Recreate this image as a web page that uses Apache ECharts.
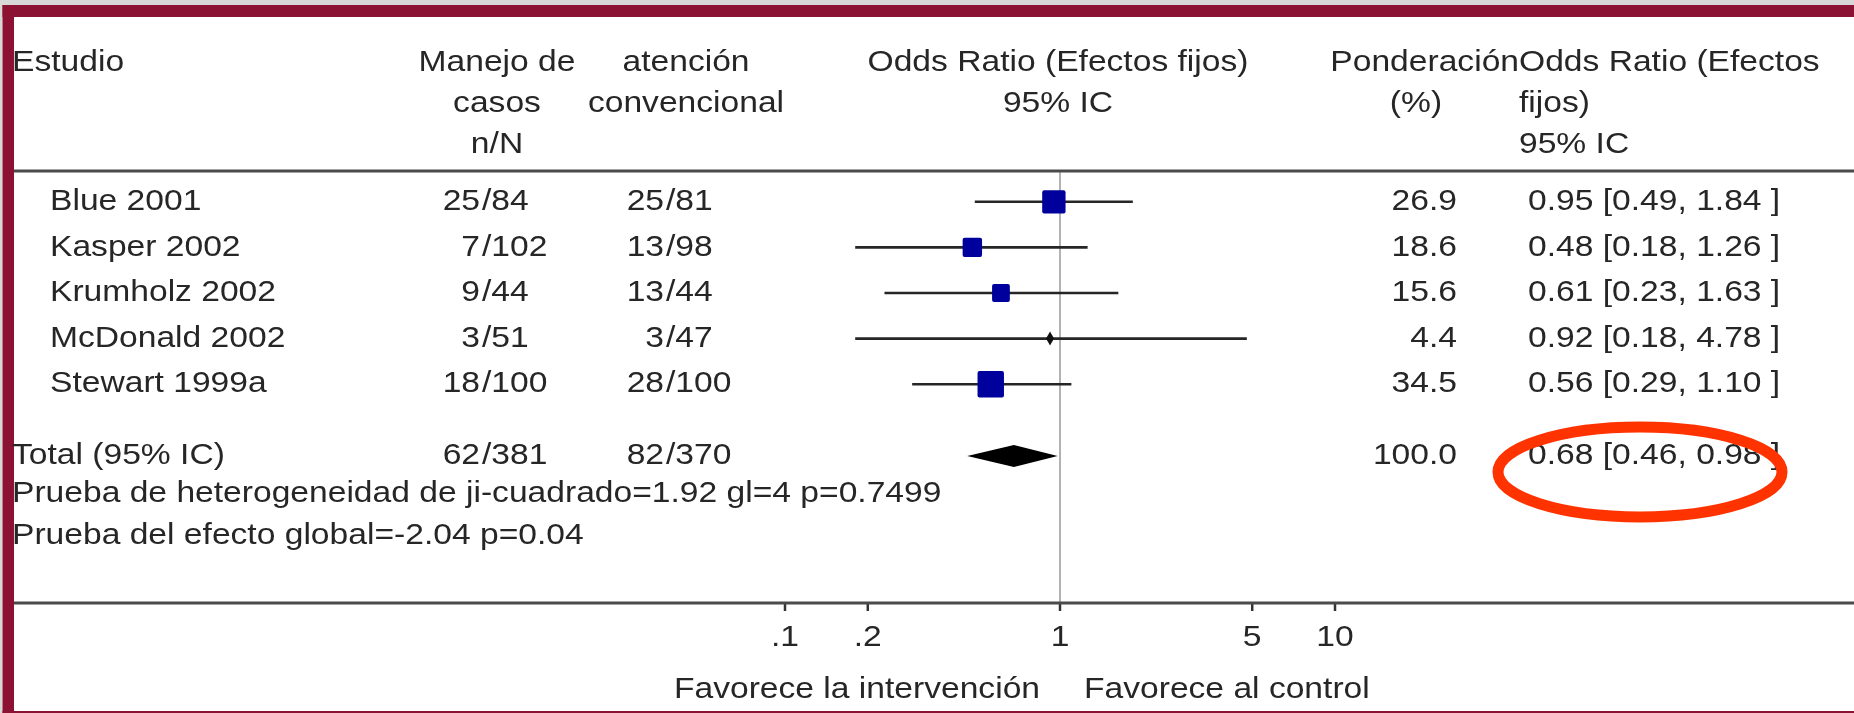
<!DOCTYPE html>
<html><head><meta charset="utf-8">
<script src="https://cdn.jsdelivr.net/npm/echarts@6/dist/echarts.min.js"></script>
<style>html,body{margin:0;padding:0;background:#fff}#c{width:1854px;height:713px}</style>
</head><body><div id="c"></div>
<script>
// ---------- data ----------
const studies      = ['Blue 2001', 'Kasper 2002', 'Krumholz 2002', 'McDonald 2002', 'Stewart 1999a'];
const treatEvents  = [25, 7, 9, 3, 18];
const treatTotal   = [84, 102, 44, 51, 100];
const ctrlEvents   = [25, 13, 13, 3, 28];
const ctrlTotal    = [81, 98, 44, 47, 100];
const weights      = [26.9, 18.6, 15.6, 4.4, 34.5];
const oddsRatio    = [0.95, 0.48, 0.61, 0.92, 0.56];
const ciLow        = [0.49, 0.18, 0.23, 0.18, 0.29];
const ciHigh       = [1.84, 1.26, 1.63, 4.78, 1.10];

const totalLabel   = 'Total (95% IC)';
const totalTreat   = [62, 381];
const totalCtrl    = [82, 370];
const totalWeight  = [100.0];
const totalOR      = [0.68];
const totalLow     = [0.46];
const totalHigh    = [0.98];

const tickValues   = [0.1, 0.2, 1, 5, 10];
const tickLabels   = ['.1', '.2', '1', '5', '10'];
const nullEffect   = [1];

const headerLines = {
  study: ['Estudio'],
  treat: ['Manejo de', 'casos', 'n/N'],
  ctrl: ['atención', 'convencional'],
  plot: ['Odds Ratio (Efectos fijos)', '95% IC'],
  weight: ['Ponderación', '(%)'],
  orText: ['Odds Ratio (Efectos', 'fijos)', '95% IC']
};
const footerLines = ['Prueba de heterogeneidad de ji-cuadrado=1.92 gl=4 p=0.7499', 'Prueba del efecto global=-2.04 p=0.04'];
const favourLabels = ['Favorece la intervención', 'Favorece al control'];

// ---------- styling / layout ----------
const FONT = '"Liberation Sans", Arial, sans-serif';
const FS = 30, SX = 1.12, INK = '#262626';
const COL = { name: 50, n1: 480, n2: 664, w: 1457, ci: 1528 };
const fmtCI = (o, l, h) => o.toFixed(2) + ' [' + l.toFixed(2) + ', ' + h.toFixed(2) + ' ]';

function T(x, y, text, align) {
  align = align || 'left';
  return { type: 'text', x: x, y: y, scaleX: SX, silent: true, z: 20,
    style: { text: text, fill: INK, fontSize: FS, fontFamily: FONT,
      align: align, verticalAlign: 'middle', textAlign: align, textVerticalAlign: 'middle' } };
}
function rowCells(y, name, nameX, tE, tT, cE, cT, w, ciText) {
  return [
    T(nameX, y, name, 'left'),
    T(COL.n1, y, String(tE), 'right'), T(COL.n1 + 2, y, '/' + tT, 'left'),
    T(COL.n2, y, String(cE), 'right'), T(COL.n2 + 2, y, '/' + cT, 'left'),
    T(COL.w, y, w.toFixed(1), 'right'),
    T(COL.ci, y, ciText, 'left')
  ];
}

const chart = echarts.init(document.getElementById('c'), null, { renderer: 'canvas' });

const graphic = [];
// frame
graphic.push({ type: 'rect', z: -10, shape: { x: 0, y: 0, width: 1854, height: 5 }, style: { fill: '#d8d8d8' } });
graphic.push({ type: 'rect', z: -10, shape: { x: 0, y: 0, width: 2.5, height: 713 }, style: { fill: '#d8d8d8' } });
graphic.push({ type: 'rect', z: -9, shape: { x: 2.5, y: 5, width: 1852, height: 12 }, style: { fill: '#8b1232' } });
graphic.push({ type: 'rect', z: -9, shape: { x: 2.5, y: 5, width: 11.5, height: 708 }, style: { fill: '#8b1232' } });
graphic.push({ type: 'rect', z: -9, shape: { x: 2.5, y: 711, width: 1852, height: 2 }, style: { fill: '#8b1232' } });
// rules
graphic.push({ type: 'line', z: 5, shape: { x1: 14, y1: 171, x2: 1854, y2: 171 }, style: { stroke: '#4a4a4a', lineWidth: 3 } });
graphic.push({ type: 'line', z: 5, shape: { x1: 14, y1: 603, x2: 1854, y2: 603 }, style: { stroke: '#4a4a4a', lineWidth: 3 } });
// header
const hy = [63, 104, 145];
headerLines.study.forEach((s, i) => graphic.push(T(12, hy[i], s, 'left')));
headerLines.treat.forEach((s, i) => graphic.push(T(497, hy[i], s, 'center')));
headerLines.ctrl.forEach((s, i) => graphic.push(T(686, hy[i], s, 'center')));
headerLines.plot.forEach((s, i) => graphic.push(T(1058, hy[i], s, 'center')));
graphic.push(T(1519, hy[0], headerLines.weight[0], 'right'));
graphic.push(T(1416, hy[1], headerLines.weight[1], 'center'));
headerLines.orText.forEach((s, i) => graphic.push(T(1519, hy[i], s, 'left')));
// footer
graphic.push(T(12, 494, footerLines[0], 'left'));
graphic.push(T(12, 536, footerLines[1], 'left'));
graphic.push(T(1040, 690, favourLabels[0], 'right'));
graphic.push(T(1084, 690, favourLabels[1], 'left'));
// highlight ellipse
graphic.push({ type: 'ellipse', z: 30, shape: { cx: 1640, cy: 472, rx: 142, ry: 45 }, style: { fill: 'none', stroke: '#ff3300', lineWidth: 11 } });

const logX = (gi) => ({ type: 'log', logBase: 10, min: 0.1, max: 10, gridIndex: gi, show: false });

const option = {
  backgroundColor: '#ffffff',
  animation: false,
  grid: [
    { left: 785, top: 171, width: 550, height: 432 },
    { left: 785, top: 179, width: 550, height: 228 },
    { left: 785, top: 436, width: 550, height: 40 }
  ],
  xAxis: [logX(0), logX(1), logX(2)],
  yAxis: [
    { type: 'value', min: 0, max: 1, gridIndex: 0, show: false },
    { type: 'category', data: studies, inverse: true, gridIndex: 1, show: false },
    { type: 'category', data: [totalLabel], gridIndex: 2, show: false }
  ],
  graphic: graphic,
  series: [
    { // line of no effect
      type: 'line', xAxisIndex: 0, yAxisIndex: 0, symbol: 'none', silent: true, z: 1,
      data: [[nullEffect[0], 0], [nullEffect[0], 1.015]],
      lineStyle: { color: '#9a9a9a', width: 1.5 }
    },
    { // axis ticks + labels
      type: 'custom', xAxisIndex: 0, yAxisIndex: 0, clip: false, silent: true,
      data: tickValues.map(v => [v, 0]),
      renderItem: function (params, api) {
        const p = api.coord([api.value(0), 0]);
        return { type: 'group', children: [
          { type: 'line', shape: { x1: p[0], y1: p[1], x2: p[0], y2: p[1] + 8 }, style: { stroke: '#333', lineWidth: 2.5 } },
          T(p[0], p[1] + 35, tickLabels[params.dataIndex], 'center')
        ] };
      }
    },
    { // studies
      type: 'custom', xAxisIndex: 1, yAxisIndex: 1, clip: false, silent: true,
      data: studies.map((s, i) => [oddsRatio[i], ciLow[i], ciHigh[i], i]),
      encode: { x: [0, 1, 2], y: 3 },
      renderItem: function (params, api) {
        const i = params.dataIndex;
        const yv = api.value(3);
        const pc = api.coord([api.value(0), yv]);
        const pl = api.coord([api.value(1), yv]);
        const ph = api.coord([api.value(2), yv]);
        const w = weights[i];
        const side = 4.5 * Math.sqrt(w);
        const children = [
          { type: 'line', shape: { x1: pl[0], y1: pc[1], x2: ph[0], y2: pc[1] }, style: { stroke: '#262626', lineWidth: 2.6 } }
        ];
        if (side < 12) {
          children.push({ type: 'polygon', shape: { points: [[pc[0] - 4, pc[1]], [pc[0], pc[1] - 7], [pc[0] + 4, pc[1]], [pc[0], pc[1] + 7]] }, style: { fill: '#111' } });
        } else {
          children.push({ type: 'rect', shape: { x: pc[0] - side / 2, y: pc[1] - side / 2, width: side, height: side, r: 2 }, style: { fill: '#00009c' } });
        }
        return { type: 'group', children: children.concat(
          rowCells(pc[1], studies[i], COL.name, treatEvents[i], treatTotal[i], ctrlEvents[i], ctrlTotal[i], w, fmtCI(oddsRatio[i], ciLow[i], ciHigh[i]))
        ) };
      }
    },
    { // pooled total
      type: 'custom', xAxisIndex: 2, yAxisIndex: 2, clip: false, silent: true,
      data: [[totalOR[0], totalLow[0], totalHigh[0], 0]],
      encode: { x: [0, 1, 2], y: 3 },
      renderItem: function (params, api) {
        const yv = api.value(3);
        const pc = api.coord([api.value(0), yv]);
        const pl = api.coord([api.value(1), yv]);
        const ph = api.coord([api.value(2), yv]);
        const y = pc[1];
        return { type: 'group', children: [
          { type: 'polygon', shape: { points: [[pl[0], y], [pc[0], y - 11], [ph[0], y], [pc[0], y + 11]] }, style: { fill: '#000' } }
        ].concat(rowCells(y, totalLabel, 12, totalTreat[0], totalTreat[1], totalCtrl[0], totalCtrl[1], totalWeight[0], fmtCI(totalOR[0], totalLow[0], totalHigh[0]))) };
      }
    }
  ]
};
chart.setOption(option);
</script></body></html>
